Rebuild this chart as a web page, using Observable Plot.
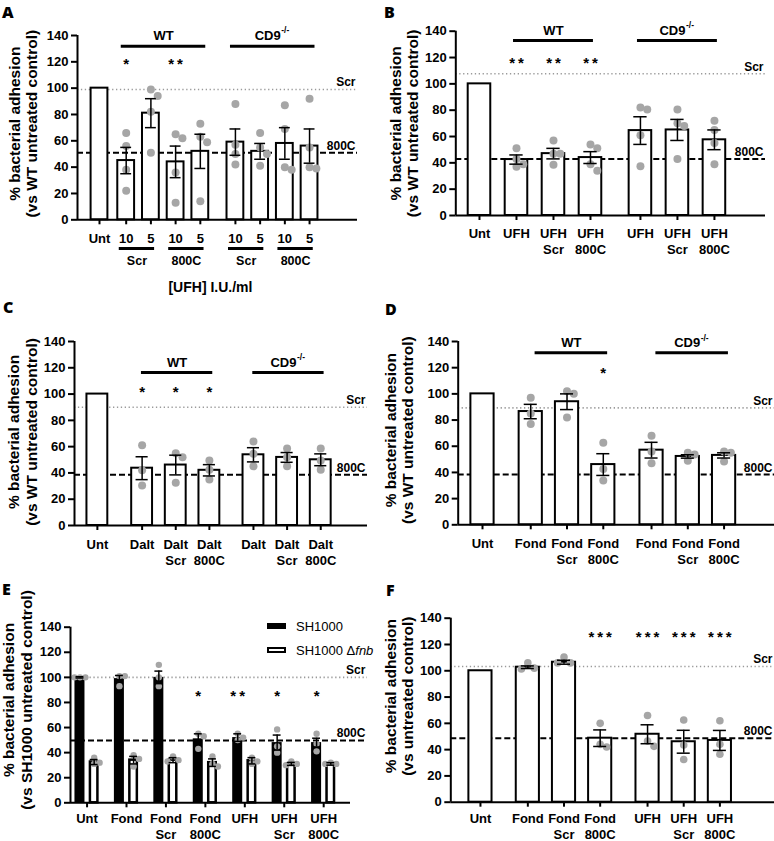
<!DOCTYPE html>
<html><head><meta charset="utf-8">
<script src="https://cdn.jsdelivr.net/npm/d3@7"></script>
<script src="https://cdn.jsdelivr.net/npm/@observablehq/plot@0.6"></script>
<style>
body{margin:0;background:#fff;}
#fig{position:relative;width:774px;height:841px;overflow:hidden;font-family:"Liberation Sans",Arial,sans-serif;background:#fff;}
.panel{position:absolute;}
.letter{position:absolute;font-family:"Open Sans","Liberation Sans",sans-serif;font-weight:800;font-size:16px;line-height:1;}
.leg{position:absolute;font-size:13px;line-height:1;white-space:nowrap;}
.sw{position:absolute;width:19px;height:6px;box-sizing:border-box;}
</style></head><body><div id="fig"></div><script>
const yTicks = [0,20,40,60,80,100,120,140];
const yTitle = "% bacterial adhesion";

// ---- Panel A ----
const A_labels = ["Unt","10","5","10","5","10","5","10","5"];
const A_groups = ["Unt","WT","WT","WT","WT","CD9","CD9","CD9","CD9"];
const A_mean = [100,45,81,44,52,59,52,58,56];
const A_sem = [0,10,11,12,13,10,6,12,13];
const A_points = [[],[66,56,38,22],[99,94,82,51],[62,65,36,13],[63,73,59,14],[88,57,50,42],[66,55,50,41],[87,69,38,40],[92,55,39,40]];
const A_sig = ["","*","","**","","","","",""];
const A_scr = 99, A_800C = 51;
const A_brackets = [["WT",1,4],["CD9",5,8]];
const A_sub = [["Scr",1,2],["800C",3,4],["Scr",5,6],["800C",7,8]];
const A_xTitle = "[UFH] I.U./ml";
const A_yTitle2 = "(vs WT untreated control)";

// ---- Panel B ----
const B_labels = ["Unt","UFH","UFH\nScr","UFH\n800C","UFH","UFH\nScr","UFH\n800C"];
const B_groups = ["Unt","WT","WT","WT","CD9","CD9","CD9"];
const B_mean = [100,42.5,47,44,64.5,65,57.5];
const B_sem = [0,3.5,4,4.5,10.5,8,7.5];
const B_points = [[],[51,43,39,37],[57,47,47,38.5],[51,54,39,34],[80.5,82,61,37.5],[80.5,70,68,43],[72,65,55,39]];
const B_sig = ["","**","**","**","","",""];
const B_scr = 107.7, B_800C = 43;
const B_brackets = [["WT",1,3],["CD9",4,6]];
const B_yTitle2 = "(vs WT untreated control)";

// ---- Panel C ----
const C_labels = ["Unt","Dalt","Dalt\nScr","Dalt\n800C","Dalt","Dalt\nScr","Dalt\n800C"];
const C_groups = ["Unt","WT","WT","WT","CD9","CD9","CD9"];
const C_mean = [100,43.6,46,42,53.8,51.8,50];
const C_sem = [0,8.7,7.5,4.3,5.4,3.7,4.5];
const C_points = [[],[61,42,30.5],[55,52,32.5],[49.5,42.5,35],[64,54.5,45],[58.5,52,45],[58.5,49.5,42.5]];
const C_sig = ["","*","*","*","","",""];
const C_scr = 90, C_800C = 38.6;
const C_brackets = [["WT",1,3],["CD9",4,6]];
const C_yTitle2 = "(vs WT untreated control)";

// ---- Panel D ----
const D_labels = ["Unt","Fond","Fond\nScr","Fond\n800C","Fond","Fond\nScr","Fond\n800C"];
const D_groups = ["Unt","WT","WT","WT","CD9","CD9","CD9"];
const D_mean = [100,86.5,94,46,57,52.2,53];
const D_sem = [0,5.5,6,8.3,6,1.3,2];
const D_points = [[],[97,85,77],[102,100,82],[62.6,42.7,33.8],[68,56,47],[55,53.7,49],[56,55,48.3]];
const D_sig = ["","","","*","","",""];
const D_scr = 89.3, D_800C = 38.4;
const D_brackets = [["WT",1,3],["CD9",4,6]];
const D_yTitle2 = "(vs WT untreated control)";

// ---- Panel E ----
const E_labels = ["Unt","Fond","Fond\nScr","Fond\n800C","UFH","UFH\nScr","UFH\n800C"];
const E_series = ["SH1000","SH1000 Δfnb"];
const E_meanWT = [100,99,100,51,52,48,48];
const E_semWT = [0.5,2.5,5,4,3,6,3.5];
const E_pointsWT = [[100,100,100],[101,101,93],[110,100,93],[55,53,43],[55,52,50],[58.5,45,40],[55,47,41]];
const E_meanFnb = [32.5,34,34,32,33.5,31,31];
const E_semFnb = [2,3,2,3,2.5,1.2,1];
const E_pointsFnb = [[36,32,31],[38,35,29],[37,34,33],[37,31,29],[36,33,31],[33,31,30],[32,31,31]];
const E_sig = ["","","","*","**","*","*"];
const E_scr = 100, E_800C = 49.7;
const E_yTitle2 = "(vs SH1000 untreated control)";

// ---- Panel F ----
const F_labels = ["Unt","Fond","Fond\nScr","Fond\n800C","UFH","UFH\nScr","UFH\n800C"];
const F_groups = ["Unt","Fond","Fond","Fond","UFH","UFH","UFH"];
const F_mean = [100,102.7,106.5,48.7,51.7,46,47];
const F_sem = [0,1,1.5,6.3,7.2,8.7,7.6];
const F_points = [[],[106,101.3,102],[110.4,106,106],[60,42,44],[66,42.5,46.5],[62.5,43.5,32.5],[62,44,36.5]];
const F_sig = ["","","","***","***","***","***"];
const F_scr = 103.3, F_800C = 48.7;
const F_yTitle2 = "(vs untreated control)";

// ---- layout (pixels / scale units), kept apart from data ----
const FONT = '"Liberation Sans", Arial, sans-serif';
const DOT = "#a6a6a6";
const LAYOUT = {
  A:{left:0,top:0,width:387,height:300,mL:77,mR:30,mT:35,mB:80.7,gaps:[0.08,0.42],domain:[-0.89,10.44],bw:0.68,cap:0.22,r:4,sigY:121,brY:131.9,brLabY:140,brExt:[-0.2,0.22],tdx:[-62,-45],tdy:-4,labelDy:12,lh:1.25,refX2:0},
  B:{left:387,top:0,width:387,height:280,mL:68.3,mR:9,mT:30.7,mB:65,gaps:[0,0.35],domain:[-0.64,7.73],bw:0.61,cap:0.18,r:4,sigY:118.5,brY:133,brLabY:140.5,brExt:[-0.08,0.08],tdx:[-60,-42.5],tdy:0,labelDy:11,lh:1.25,refX2:0},
  C:{left:0,top:280,width:387,height:300,mL:74,mR:20,mT:61,mB:55,gaps:[0.33,0.31],domain:[-0.68,8.03],bw:0.62,cap:0.18,r:4,sigY:104.8,brY:116.4,brLabY:124,brExt:[-0.02,0.1],tdx:[-60.7,-42.3],tdy:-1.5,labelDy:12,lh:1.25,refX2:0},
  D:{left:387,top:280,width:387,height:300,mL:70.7,mR:0,mT:61,mB:55.7,gaps:[0.33,0.33],domain:[-0.67,8.05],bw:0.64,cap:0.18,r:4,sigY:119,brY:131.5,brLabY:138.7,brExt:[0.12,0.12],tdx:[-67,-50],tdy:-3,labelDy:11.5,lh:1.25,refX2:0},
  E:{left:0,top:560,width:387,height:281,mL:70,mR:37,mT:66.7,mB:38.7,domain:[-0.42,6.68],off:0.18,bw:0.254,bwIn:0.19,cap:0.1,r:3.2,sigY:88,tdx:[-61.7,-43.3],tdy:-15,labelDy:9.5,lh:1.2,refX2:0.43},
  F:{left:387,top:560,width:387,height:281,mL:63.3,mR:0,mT:57.7,mB:39.3,gaps:[0.31,0.31],domain:[-0.82,8.13],bw:0.64,cap:0.18,r:3.8,sigY:128.8,tdx:[-60,-42.5],tdy:-14,labelDy:10,lh:1.2,refX2:0}
};

function positions(groups, gaps) {
  const pos = []; let off = 0, gi = 0;
  groups.forEach((g, i) => {
    if (i > 0 && g !== groups[i-1]) off += (gaps[gi++] || 0);
    pos.push(i + off);
  });
  return pos;
}
function dodge(values, x, L) {
  const kx = (L.width - L.mL - L.mR) / (L.domain[1] - L.domain[0]);
  const ky = (L.height - L.mT - L.mB) / 140;
  const placed = [];
  const sorted = values.slice().sort((a, b) => b - a);
  for (const v of sorted) {
    const py = v * ky;
    let chosen = 0;
    for (const c of [0, 1, -1, 2, -2, 3, -3]) {
      const px = c * L.r * 1.7;
      if (placed.every(p => Math.hypot(p.px - px, p.py - py) >= L.r * 1.7)) { chosen = px; break; }
    }
    placed.push({px: chosen, py, v});
  }
  return placed.map(p => ({x: x + p.px / kx, y: p.v}));
}
const spaced = s => s.split("").join("\u2009");

function commonMarks(L, scr, c800, title2, xs, labels) {
  const [xmin, xmax] = L.domain;
  const x2 = xmax + L.refX2;
  return {
    lines: [
      Plot.ruleY([scr], {x1: () => xmin, x2: () => x2, stroke: "#9a9a9a", strokeWidth: 1.6, strokeDasharray: "1.3,2.6"}),
      Plot.ruleY([c800], {x1: () => xmin, x2: () => x2, stroke: "black", strokeWidth: 2, strokeDasharray: "6,3"})
    ],
    axes: [
      Plot.ruleY([0], {x1: () => xmin, x2: () => xmax, strokeWidth: 2}),
      Plot.ruleX([xmin], {y1: () => 0, y2: () => 140, strokeWidth: 2}),
      Plot.axisY(yTicks, {tickSize: 6, tickPadding: 3, fontSize: 13, strokeWidth: 2, label: null}),
      Plot.axisX(xs, {tickSize: 5, strokeWidth: 2, tickFormat: () => "", label: null}),
      Plot.text(xs.map((x, i) => ({x, t: labels[i]})), {x: "x", y: () => 0, text: "t", lineAnchor: "top", dy: L.labelDy, fontSize: 13, lineHeight: L.lh}),
      Plot.text([{t: "Scr", y: scr}, {t: "800C", y: c800}], {x: () => x2, y: "y", text: "t", textAnchor: "end", lineAnchor: "bottom", dx: -2, dy: -3, fontSize: 12}),
      Plot.text([yTitle], {text: d => d, frameAnchor: "left", textAnchor: "middle", lineAnchor: "middle", rotate: -90, dx: L.tdx[0], dy: L.tdy, fontSize: 15.5}),
      Plot.text([title2], {text: d => d, frameAnchor: "left", textAnchor: "middle", lineAnchor: "middle", rotate: -90, dx: L.tdx[1], dy: L.tdy, fontSize: 15.5})
    ]
  };
}

function makePlot(L, marks) {
  return Plot.plot({
    width: L.width, height: L.height,
    marginLeft: L.mL, marginRight: L.mR, marginTop: L.mT, marginBottom: L.mB,
    x: {type: "linear", domain: L.domain},
    y: {domain: [0, 140]},
    style: {fontFamily: FONT, fontWeight: "bold", overflow: "visible", background: "transparent", color: "black"},
    marks
  });
}

function barPanel(L, labels, groups, mean, sem, points, sig, scr, c800, brackets, title2, extra) {
  const xs = positions(groups, L.gaps);
  const rows = labels.map((t, i) => ({x: xs[i], mean: mean[i], sem: sem[i], sig: sig[i]}));
  const dots = points.flatMap((vals, i) => dodge(vals, xs[i], L));
  const err = rows.filter(d => d.sem > 0);
  const cm = commonMarks(L, scr, c800, title2, xs, labels);
  const brs = (brackets || []).map(([t, a, b]) => ({t, x1: xs[a] + L.brExt[0], x2: xs[b] + L.brExt[1], xc: (xs[a] + L.brExt[0] + xs[b] + L.brExt[1]) / 2}));
  const marks = [
    ...cm.lines,
    Plot.rect(rows, {x1: d => d.x - L.bw / 2, x2: d => d.x + L.bw / 2, y1: () => 0, y2: "mean", fill: "white", stroke: "black", strokeWidth: 2}),
    Plot.dot(dots, {x: "x", y: "y", r: L.r, fill: DOT}),
    Plot.ruleX(err, {x: "x", y1: d => d.mean - d.sem, y2: d => d.mean + d.sem, strokeWidth: 1.5}),
    Plot.ruleY(err, {y: d => d.mean + d.sem, x1: d => d.x - L.cap, x2: d => d.x + L.cap, strokeWidth: 1.5}),
    Plot.ruleY(err, {y: d => d.mean - d.sem, x1: d => d.x - L.cap, x2: d => d.x + L.cap, strokeWidth: 1.5}),
    ...cm.axes,
    Plot.text(rows.filter(d => d.sig), {x: "x", y: () => L.sigY, text: d => spaced(d.sig), fontSize: 15, dy: 4}),
    Plot.ruleY(brs, {y: () => L.brY, x1: "x1", x2: "x2", strokeWidth: 3}),
    Plot.text(brs.filter(d => d.t !== "CD9"), {x: "xc", y: () => L.brLabY, text: "t", fontSize: 13}),
    Plot.text(brs.filter(d => d.t === "CD9"), {x: "xc", y: () => L.brLabY, text: "t", fontSize: 13, textAnchor: "end", dx: 8}),
    Plot.text(brs.filter(d => d.t === "CD9"), {x: "xc", y: () => L.brLabY, text: () => "-/-", fontSize: 8.5, textAnchor: "start", dx: 8.5, dy: -5})
  ];
  if (extra) marks.push(...extra(xs));
  return makePlot(L, marks);
}

function panelE(L) {
  const xs = E_labels.map((_, i) => i);
  const wt = xs.map(g => ({x: g - L.off, mean: E_meanWT[g], sem: E_semWT[g], sig: E_sig[g]}));
  const fnb = xs.map(g => ({x: g + L.off, mean: E_meanFnb[g], sem: E_semFnb[g]}));
  const dots = [...E_pointsWT.flatMap((v, g) => dodge(v, g - L.off, L)), ...E_pointsFnb.flatMap((v, g) => dodge(v, g + L.off, L))];
  const all = [...wt, ...fnb];
  const cm = commonMarks(L, E_scr, E_800C, E_yTitle2, xs, E_labels);
  return makePlot(L, [
    ...cm.lines,
    Plot.rect(wt, {x1: d => d.x - L.bw / 2, x2: d => d.x + L.bw / 2, y1: () => 0, y2: "mean", fill: "black"}),
    Plot.rect(fnb, {x1: d => d.x - L.bwIn / 2, x2: d => d.x + L.bwIn / 2, y1: () => 0, y2: "mean", fill: "white", stroke: "black", strokeWidth: 2.5}),
    Plot.dot(dots, {x: "x", y: "y", r: L.r, fill: DOT}),
    Plot.ruleX(all, {x: "x", y1: d => d.mean - d.sem, y2: d => d.mean + d.sem, strokeWidth: 1.5}),
    Plot.ruleY(all, {y: d => d.mean + d.sem, x1: d => d.x - L.cap, x2: d => d.x + L.cap, strokeWidth: 1.5}),
    Plot.ruleY(all, {y: d => d.mean - d.sem, x1: d => d.x - L.cap, x2: d => d.x + L.cap, strokeWidth: 1.5}),
    ...cm.axes,
    Plot.text(wt.filter(d => d.sig), {x: "x", y: () => L.sigY, text: d => spaced(d.sig), fontSize: 15, dy: 4})
  ]);
}

const fig = document.getElementById("fig");
function place(node, L) {
  const d = document.createElement("div");
  d.className = "panel";
  d.style.left = L.left + "px"; d.style.top = L.top + "px";
  d.style.width = L.width + "px"; d.style.height = L.height + "px";
  d.appendChild(node); fig.appendChild(d);
}

place(barPanel(LAYOUT.A, A_labels, A_groups, A_mean, A_sem, A_points, A_sig, A_scr, A_800C, A_brackets, A_yTitle2, (xs) => {
  const subs = A_sub.map(([t, a, b]) => ({t, x1: xs[a] - 0.28, x2: xs[b] + 0.15, xc: (xs[a] - 0.28 + xs[b] + 0.15) / 2}));
  const mid = (xs[4] + xs[5]) / 2 - 0.3;
  return [
    Plot.ruleY(subs, {y: () => -21.8, x1: "x1", x2: "x2", strokeWidth: 3}),
    Plot.text(subs, {x: "xc", y: () => -31, text: "t", fontSize: 12.5}),
    Plot.text([A_xTitle], {text: d => d, x: () => mid, y: () => -51.4, fontSize: 14})
  ];
}), LAYOUT.A);
place(barPanel(LAYOUT.B, B_labels, B_groups, B_mean, B_sem, B_points, B_sig, B_scr, B_800C, B_brackets, B_yTitle2), LAYOUT.B);
place(barPanel(LAYOUT.C, C_labels, C_groups, C_mean, C_sem, C_points, C_sig, C_scr, C_800C, C_brackets, C_yTitle2), LAYOUT.C);
place(barPanel(LAYOUT.D, D_labels, D_groups, D_mean, D_sem, D_points, D_sig, D_scr, D_800C, D_brackets, D_yTitle2), LAYOUT.D);
place(panelE(LAYOUT.E), LAYOUT.E);
place(barPanel(LAYOUT.F, F_labels, F_groups, F_mean, F_sem, F_points, F_sig, F_scr, F_800C, null, F_yTitle2), LAYOUT.F);

// panel letters
[["A",2,4],["B",384,4],["C",3,299],["D",385,301],["E",2,581],["F",386,582]].forEach(([t, x, y]) => {
  const d = document.createElement("div"); d.className = "letter"; d.textContent = t;
  d.style.left = x + "px"; d.style.top = y + "px"; fig.appendChild(d);
});
// legend for E
const legY = [623, 647];
E_series.forEach((s, i) => {
  const sw = document.createElement("div"); sw.className = "sw";
  sw.style.left = "267px"; sw.style.top = legY[i] + "px";
  sw.style.background = i === 0 ? "black" : "white";
  if (i === 1) sw.style.border = "2px solid black";
  fig.appendChild(sw);
  const t = document.createElement("div"); t.className = "leg";
  t.style.left = "296px"; t.style.top = (legY[i] - 3) + "px";
  if (i === 0) t.textContent = s;
  else { const [a, b] = s.split("Δ"); t.innerHTML = a + "Δ<i>" + b + "</i>"; }
  fig.appendChild(t);
});
</script></body></html>
